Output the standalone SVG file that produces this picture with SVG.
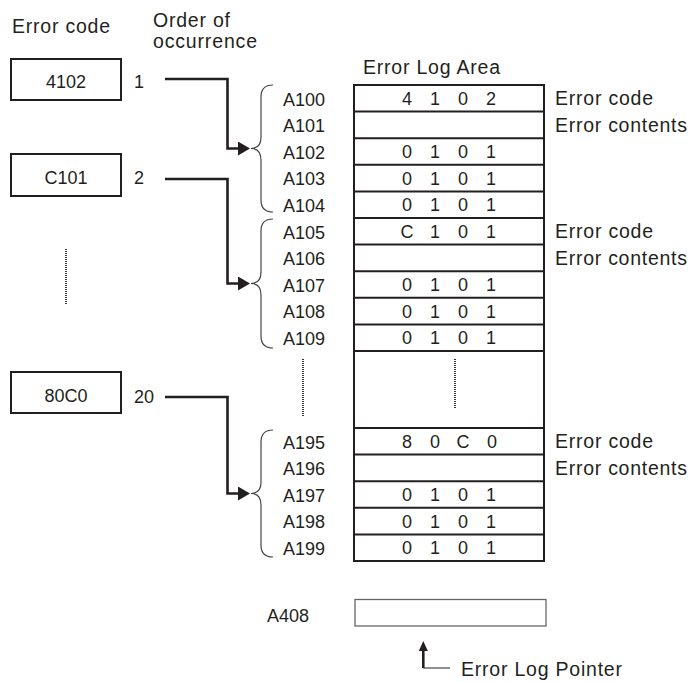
<svg xmlns="http://www.w3.org/2000/svg" width="691" height="682" viewBox="0 0 691 682">
<defs>
<style>
text{font-family:"Liberation Sans",Arial,Helvetica,sans-serif;font-size:18px;fill:#231f20}
text.w{font-size:19.5px}
.mid{text-anchor:middle}
.box{fill:#fff;stroke:#231f20;stroke-width:2}
.tbl{fill:#fff;stroke:#231f20;stroke-width:2}
.row{stroke:#231f20;stroke-width:2}
.conn{fill:none;stroke:#231f20;stroke-width:2.6}
.thin{fill:none;stroke:#231f20;stroke-width:1}
.brace{fill:none;stroke:#444;stroke-width:1.2}
.dots{stroke:#231f20;stroke-width:1.8;stroke-dasharray:1 1}
</style>
<marker id="ah" markerUnits="userSpaceOnUse" markerWidth="14" markerHeight="16" refX="1" refY="7" orient="auto">
<path d="M0,0 L12,7 L0,14 z" fill="#231f20"/>
</marker>
<marker id="ahs" markerUnits="userSpaceOnUse" markerWidth="12" markerHeight="10" refX="1" refY="4.5" orient="auto">
<path d="M0,0 L10,4.5 L0,9 z" fill="#231f20"/>
</marker>
</defs>
<rect width="691" height="682" fill="#fff"/>

<g id="headers">
<text class="w" x="12" y="33" textLength="98" lengthAdjust="spacing">Error code</text>
<text class="w" x="153" y="27" textLength="77" lengthAdjust="spacing">Order of</text>
<text class="w" x="153" y="48" textLength="104" lengthAdjust="spacing">occurrence</text>
<text class="w" x="363" y="74" textLength="137" lengthAdjust="spacing">Error Log Area</text>
</g>

<g id="err1">
<rect class="box" x="11" y="59" width="110" height="41"/>
<text class="mid" x="66" y="88">4102</text>
<text x="134" y="88">1</text>
</g>
<g id="err2">
<rect class="box" x="11" y="154" width="110" height="42"/>
<text class="mid" x="66" y="184">C101</text>
<text x="134" y="184">2</text>
</g>
<g id="err20">
<rect class="box" x="11" y="372" width="110" height="41"/>
<text class="mid" x="66" y="402">80C0</text>
<text x="134" y="403">20</text>
</g>
<g id="err-ellipsis">
<line class="dots" x1="66" y1="249" x2="66" y2="305"/>
</g>

<g id="connectors">
<path class="conn" d="M165,79 H227.5 V148.5 H239" marker-end="url(#ah)"/>
<path class="conn" d="M165,179 H227.5 V283.5 H239" marker-end="url(#ah)"/>
<path class="conn" d="M165,397 H227.5 V493.5 H239" marker-end="url(#ah)"/>
<path class="thin" d="M450,668 H423.3"/>
<path class="conn" d="M423.3,668 V650" marker-end="url(#ahs)"/>
</g>

<g id="braces">
<path class="brace" d="M273,85 Q261,85 261,97 V137 Q261,148.5 251,148.5 Q261,148.5 261,160 V200 Q261,212 273,212"/>
<path class="brace" d="M273,219 Q261,219 261,231 V272 Q261,283.5 251,283.5 Q261,283.5 261,295 V336 Q261,348 273,348"/>
<path class="brace" d="M273,430 Q261,430 261,442 V482 Q261,493.5 251,493.5 Q261,493.5 261,505 V545 Q261,557 273,557"/>
</g>

<g id="addresses">
<text x="283" y="105.5">A100</text>
<text x="283" y="132.1">A101</text>
<text x="283" y="158.7">A102</text>
<text x="283" y="185.3">A103</text>
<text x="283" y="211.9">A104</text>
<text x="283" y="238.5">A105</text>
<text x="283" y="265.1">A106</text>
<text x="283" y="291.7">A107</text>
<text x="283" y="318.3">A108</text>
<text x="283" y="344.9">A109</text>
<line class="dots" x1="303" y1="359" x2="303" y2="416"/>
<text x="283" y="448.5">A195</text>
<text x="283" y="475.1">A196</text>
<text x="283" y="501.7">A197</text>
<text x="283" y="528.3">A198</text>
<text x="283" y="554.9">A199</text>
</g>

<g id="error-log-area">
<rect class="tbl" x="354" y="85" width="190" height="476"/>
<path class="row" d="M354,111.6H544M354,138.2H544M354,164.8H544M354,191.4H544M354,218H544M354,244.6H544M354,271.2H544M354,297.8H544M354,324.4H544M354,351H544M354,428H544M354,454.6H544M354,481.2H544M354,507.8H544M354,534.4H544"/>
<text class="mid" x="407 435 463 491" y="105">4102</text>
<text class="mid" x="407 435 463 491" y="158.2">0101</text>
<text class="mid" x="407 435 463 491" y="184.8">0101</text>
<text class="mid" x="407 435 463 491" y="211.4">0101</text>
<text class="mid" x="407 435 463 491" y="238">C101</text>
<text class="mid" x="407 435 463 491" y="291.2">0101</text>
<text class="mid" x="407 435 463 491" y="317.8">0101</text>
<text class="mid" x="407 435 463 491" y="344.4">0101</text>
<line class="dots" x1="455" y1="359" x2="455" y2="409"/>
<text class="mid" x="407 435 463 492" y="448">80C0</text>
<text class="mid" x="407 435 463 491" y="501.2">0101</text>
<text class="mid" x="407 435 463 491" y="527.8">0101</text>
<text class="mid" x="407 435 463 491" y="554.4">0101</text>
</g>

<g id="labels">
<text class="w" x="555" y="105" textLength="98" lengthAdjust="spacing">Error code</text>
<text class="w" x="555" y="131.6" textLength="132" lengthAdjust="spacing">Error contents</text>
<text class="w" x="555" y="238" textLength="98" lengthAdjust="spacing">Error code</text>
<text class="w" x="555" y="264.6" textLength="132" lengthAdjust="spacing">Error contents</text>
<text class="w" x="555" y="448" textLength="98" lengthAdjust="spacing">Error code</text>
<text class="w" x="555" y="474.6" textLength="132" lengthAdjust="spacing">Error contents</text>
</g>

<g id="a408">
<text x="267" y="622">A408</text>
<rect x="355" y="599.5" width="191" height="26.5" fill="#fff" stroke="#666" stroke-width="1.3"/>
</g>

<g id="pointer-label">
<text class="w" x="461" y="676" textLength="161" lengthAdjust="spacing">Error Log Pointer</text>
</g>
</svg>
